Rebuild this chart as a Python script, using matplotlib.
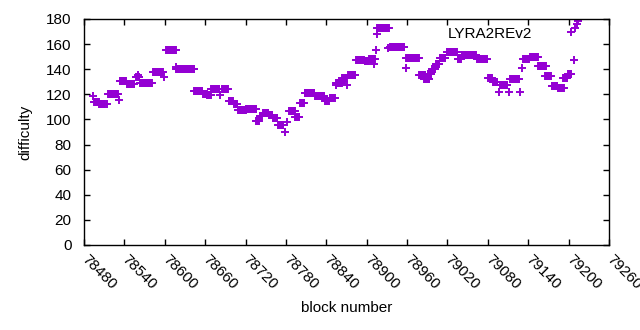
import numpy as np
import matplotlib
matplotlib.use("Agg")
import matplotlib.pyplot as plt
from matplotlib.lines import Line2D

# runs of constant difficulty: first block, number of blocks, difficulty
run_start = [78493, 78495, 78503, 78514, 78516, 78532, 78533, 78544, 78557, 78560,
             78563, 78583, 78599, 78602, 78616, 78617, 78644, 78657, 78663, 78669,
             78682, 78685, 78695, 78703, 78709, 78721, 78736, 78741, 78746, 78755,
             78761, 78768, 78779, 78782, 78785, 78794, 78801, 78808, 78823, 78838,
             78845, 78854, 78855, 78864, 78871, 78872, 78884, 78897, 78904, 78911,
             78914, 78915, 78916, 78932, 78935, 78958, 78959, 78978, 78985, 78991,
             78997, 79003, 79009, 79019, 79035, 79041, 79053, 79064, 79080, 79088,
             79097, 79098, 79111, 79113, 79128, 79131, 79132, 79143, 79155, 79165,
             79175, 79184, 79192, 79199, 79208, 79209, 79212, 79214]
run_len = [1, 8, 9, 1, 15, 1, 10, 12, 6, 1,
           19, 15, 1, 15, 1, 28, 13, 6, 6, 13,
           1, 10, 7, 6, 12, 16, 5, 4, 9, 6,
           7, 9, 1, 1, 9, 7, 7, 15, 15, 7,
           9, 1, 9, 7, 1, 12, 13, 7, 9, 1,
           1, 1, 18, 1, 22, 1, 19, 10, 9, 6,
           6, 6, 9, 16, 6, 12, 10, 16, 7, 7,
           1, 12, 1, 15, 1, 1, 10, 12, 12, 10,
           9, 10, 7, 6, 1, 1, 1, 1]
run_diff = [118.9, 113.9, 112.3, 112.0, 120.1, 115.5, 130.6, 128.2, 133.8, 135.5,
            129.4, 137.4, 133.8, 155.3, 142.0, 140.0, 123.0, 120.0, 119.5, 123.9,
            119.5, 123.9, 114.3, 112.0, 107.5, 108.7, 99.0, 103.0, 105.5, 103.5,
            101.5, 95.6, 90.2, 98.0, 107.0, 102.3, 112.7, 120.7, 118.7, 114.3,
            117.0, 127.4, 129.4, 133.0, 127.4, 135.4, 147.7, 146.5, 148.5, 144.0,
            155.3, 168.0, 173.2, 157.0, 158.0, 141.0, 149.3, 135.4, 132.6, 136.5,
            140.0, 144.0, 149.0, 154.0, 148.5, 151.0, 151.7, 148.5, 133.0, 130.0,
            121.8, 127.4, 121.8, 132.6, 121.8, 141.0, 148.0, 149.7, 142.6, 135.0,
            127.0, 124.7, 133.0, 136.0, 147.4, 172.8, 176.0, 178.4]

xticks = np.arange(78480, 79261, 60)
yticks = np.arange(0, 181, 20)

blocks = []
diffs = []
for s, n, d in zip(run_start, run_len, run_diff):
    for b in range(s, s + n):
        blocks.append(b)
        diffs.append(d)

plt.rcParams['font.family'] = ['Liberation Sans', 'DejaVu Sans']
plt.rcParams['font.size'] = 11

col = '#9400d3'
fig = plt.figure(figsize=(6.4, 3.3), dpi=100)
ax = fig.add_axes([84 / 640, 1 - 245 / 330, 525 / 640, 226 / 330])
ax.plot(blocks, diffs, '+', color=col, ms=6, mew=1.4, ls='none')

ax.set_xlim(78480, 79260)
ax.set_ylim(0, 180)
ax.set_xticks(xticks)
ax.set_yticks(yticks)
ax.tick_params(direction='in', length=4, width=1, top=True, right=True)
ax.tick_params(axis='y', pad=9)
ax.set_xticklabels([str(t) for t in xticks], rotation=-45, ha='left', va='center',
                   rotation_mode='anchor')
ax.tick_params(axis='x', pad=9)
for sp in ax.spines.values():
    sp.set_linewidth(1)

ax.set_xlabel('block number', labelpad=6)
ax.set_ylabel('difficulty', labelpad=10)

h = Line2D([], [], marker='+', color=col, ms=6, mew=1.4, ls='none')
ax.legend([h], ['LYRA2REv2'], loc='upper right', markerfirst=False, frameon=False,
          handlelength=4, handletextpad=0.5, borderaxespad=0.1, borderpad=0.4,
          numpoints=1)

fig.savefig('out.png', dpi=100)
